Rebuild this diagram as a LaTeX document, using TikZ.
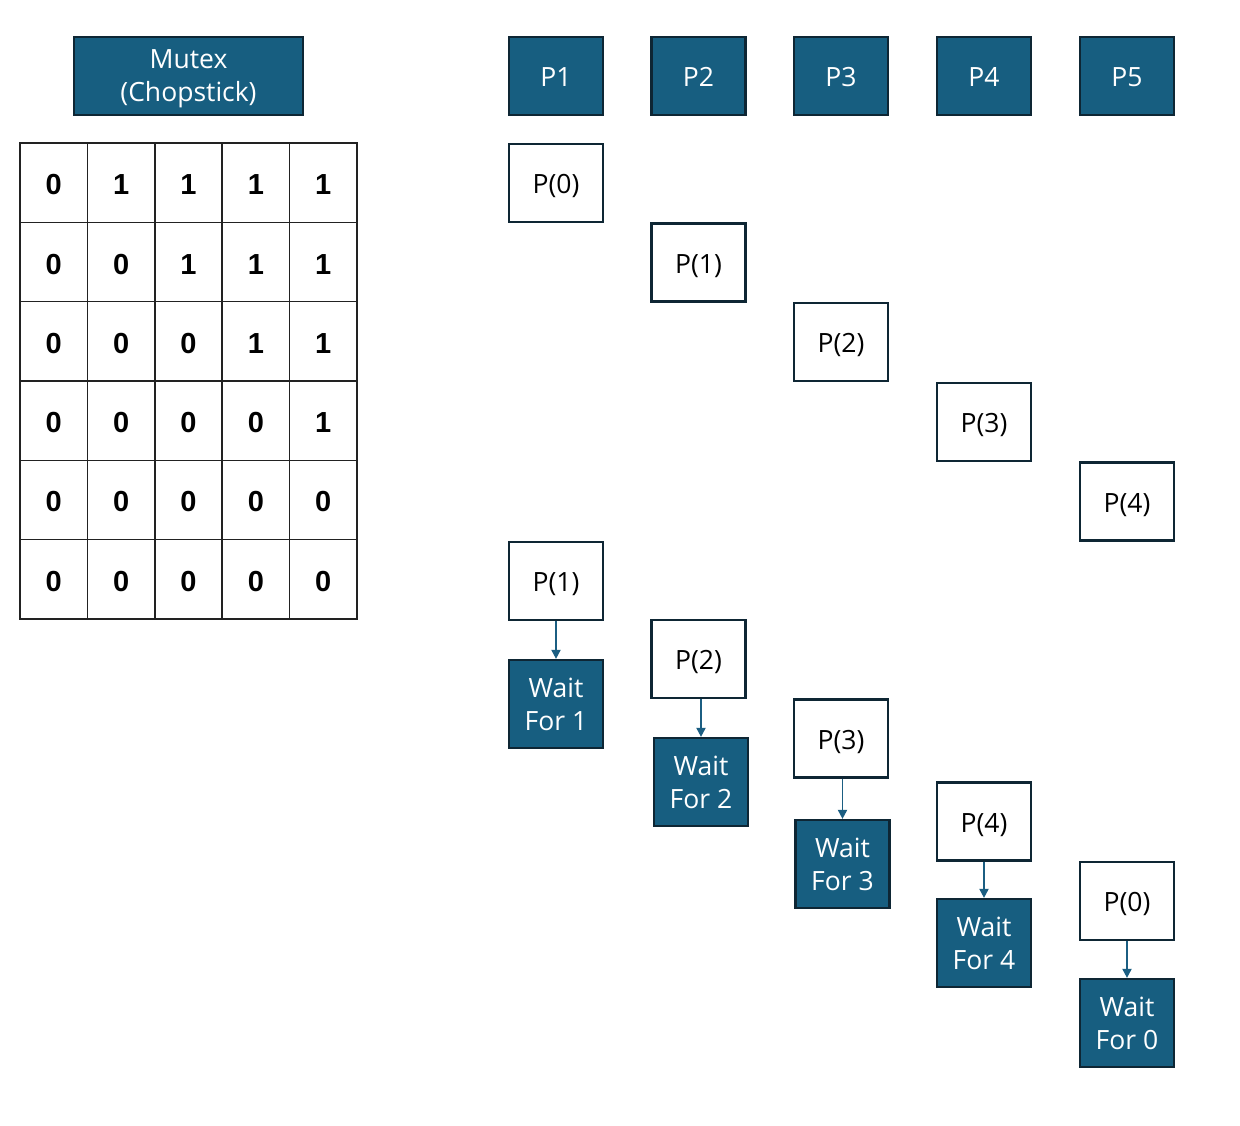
\documentclass[tikz,border=0pt]{standalone}
\usepackage{fontspec}
\setmainfont{Open Sans}
\newfontfamily\tabfont{Liberation Sans}
\usetikzlibrary{arrows.meta}
\definecolor{boxblue}{RGB}{23,94,128}
\definecolor{boxedge}{RGB}{14,38,52}
\definecolor{arrowblue}{RGB}{27,94,130}
\definecolor{tablegray}{RGB}{34,34,34}
\begin{document}
\begin{tikzpicture}[x=1pt,y=-1pt,
  dark/.style={draw=boxedge, fill=boxblue, line width=2.2pt, text=white,
    font=\fontsize{26.5}{33}\selectfont, align=center, inner sep=0pt,
    minimum width=94pt},
  one/.style={text height=21.5pt, text depth=0pt},
  two/.style={text depth=0pt},
  light/.style={draw=boxedge, fill=white, line width=2.2pt, text=black,
    font=\fontsize{26.5}{33}\selectfont, align=center, inner sep=0pt,
    minimum width=94pt, minimum height=78pt, one},
  cell/.style={draw=tablegray, line width=1.6pt, minimum width=67.4pt,
    minimum height=79.33pt, inner sep=0pt, text height=24pt, text depth=0pt,
    font=\tabfont\bfseries\fontsize{29}{29}\selectfont},
  arr/.style={draw=arrowblue, line width=1.8pt,
    -{Triangle[length=9pt,width=9pt]}}]
\useasboundingbox (0,0) rectangle (1240,1125);

% Mutex header
\node[dark, two, minimum width=229pt, minimum height=78pt] (mutex) at (188.5,76) {Mutex\\(Chopstick)};

% table
\foreach \r in {1,...,6}{
  \foreach \c in {1,...,5}{
    \pgfmathtruncatemacro{\v}{\c>\r ? 1 : 0}
    \node[cell] (cell-\r-\c) at ({20+67.4*(\c-0.5)},{143+79.33*(\r-0.5)}) {\v};
  }
}

% process headers
\node[dark, one, minimum height=78pt] (p1) at (556,76) {P1};
\node[dark, one, minimum height=78pt] (p2) at (698.5,76) {P2};
\node[dark, one, minimum height=78pt] (p3) at (841,76) {P3};
\node[dark, one, minimum height=78pt] (p4) at (984,76) {P4};
\node[dark, one, minimum height=78pt] (p5) at (1127,76) {P5};

% first phase
\node[light] (a0) at (556,183) {P(0)};
\node[light] (a1) at (698.5,262.5) {P(1)};
\node[light] (a2) at (841,342) {P(2)};
\node[light] (a3) at (984,422) {P(3)};
\node[light] (a4) at (1127,501.5) {P(4)};

% second phase
\node[light] (q1) at (556,581) {P(1)};
\node[dark, two, minimum height=88pt] (w1) at (556,704) {Wait\\For 1};
\node[light] (q2) at (698.5,659) {P(2)};
\node[dark, two, minimum height=88pt] (w2) at (701,782) {Wait\\For 2};
\node[light] (q3) at (841,738.5) {P(3)};
\node[dark, two, minimum height=88pt] (w3) at (842.5,864) {Wait\\For 3};
\node[light] (q4) at (984,821.5) {P(4)};
\node[dark, two, minimum height=88pt] (w4) at (984,943) {Wait\\For 4};
\node[light] (q0) at (1127,901) {P(0)};
\node[dark, two, minimum height=88pt] (w0) at (1127,1023) {Wait\\For 0};

\draw[arr] (w1.north |- q1.south) -- (w1.north);
\draw[arr] (w2.north |- q2.south) -- (w2.north);
\draw[arr] (w3.north |- q3.south) -- (w3.north);
\draw[arr] (w4.north |- q4.south) -- (w4.north);
\draw[arr] (w0.north |- q0.south) -- (w0.north);
\end{tikzpicture}
\end{document}
